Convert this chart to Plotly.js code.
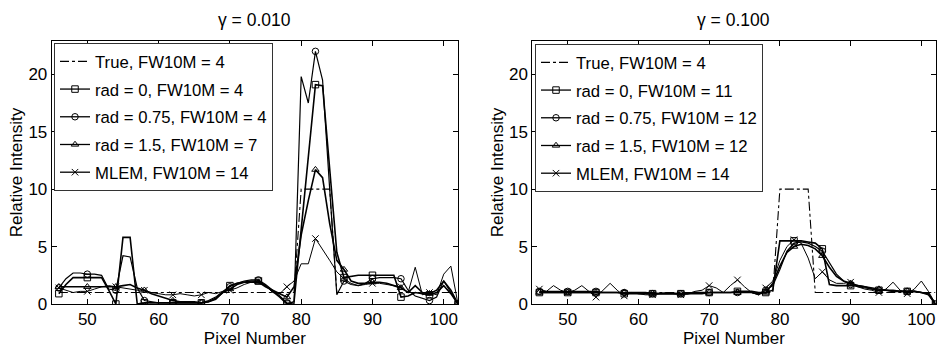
<!DOCTYPE html>
<html>
<head>
<meta charset="utf-8">
<script src="https://cdn.plot.ly/plotly-3.0.1.min.js"></script>
<style>html,body{margin:0;padding:0;background:#fff;}#chart{width:938px;height:349px;}</style>
</head>
<body>
<div id="chart"></div>
<script>
// Pixel numbers (x) shared by both panels
const pixels = [46,47,48,49,50,51,52,53,54,55,56,57,58,59,60,61,62,63,64,65,66,67,68,69,70,71,72,73,74,75,
  76,77,78,79,80,81,82,83,84,85,86,87,88,89,90,91,92,93,94,95,96,97,98,99,100,101,102];

const seriesNames = ['True', 'rad = 0', 'rad = 0.75', 'rad = 1.5', 'MLEM'];
const fw10mLeft = [4, 4, 4, 7, 14];
const fw10mRight = [4, 11, 12, 12, 14];
const panelTitles = ['γ = 0.010', 'γ = 0.100'];
const xTicks = [50, 60, 70, 80, 90, 100];
const yTicks = [0, 5, 10, 15, 20];

// ---- Left panel, gamma = 0.010 ----
const trueL = [1,1,1,1,1,1,1,1,1,1,1,1,1,1,1,1,1,1,1,1,1,1,1,1,1,1,1,1,1,1,
  1,1,1,1,10,10,10,10,10,1,1,1,1,1,1,1,1,1,1,1,1,1,1,1,1,1,1];
const rad0L = [0.9,1.7,2.3,2.3,2.3,2.3,2.3,1.2,0.0,5.8,5.8,0.0,0.1,0.1,0.1,0.1,0.1,0.1,0.1,0.1,0.1,0.2,0.4,1.0,1.6,1.8,1.9,2.0,2.0,1.6,
  1.1,0.6,0.0,0.2,6.5,13.0,19.1,19.0,12.0,4.5,2.3,2.4,2.5,2.5,2.5,2.5,2.5,2.5,0.6,0.7,1.0,0.9,0.8,1.0,1.6,0.9,0.0];
const rad075L = [1.4,2.2,2.7,2.7,2.6,2.6,2.5,1.3,1.2,4.2,4.1,1.4,0.3,0.2,0.1,0.1,0.1,0.1,0.1,0.1,0.1,0.3,0.6,1.1,1.5,1.8,2.0,2.1,2.1,1.7,
  1.2,0.7,0.1,0.0,19.8,17.5,22.0,19.5,10.0,0.8,2.0,1.7,1.6,1.8,2.2,2.3,2.3,2.3,2.2,1.2,0.7,0.5,0.3,0.6,2.0,1.0,0.0];
const rad15L = [1.5,1.5,1.5,1.5,1.5,1.5,1.5,1.5,1.5,1.6,1.7,1.4,1.2,0.9,0.7,0.5,0.3,0.2,0.2,0.2,0.1,0.2,0.5,1.0,1.3,1.7,1.9,1.9,1.9,1.5,
  1.2,0.9,0.6,1.5,6.0,9.0,11.7,11.0,7.0,3.8,3.0,2.0,1.8,1.8,1.9,1.9,1.8,1.6,1.4,1.0,1.6,1.0,0.9,1.2,2.0,1.2,0.0];
const mlemL = [1.4,1.2,1.0,1.1,1.1,1.3,1.5,1.6,1.5,1.4,1.3,1.2,1.2,1.0,0.9,0.8,0.8,0.9,0.8,0.7,0.8,1.0,0.9,1.1,1.2,1.4,1.7,1.9,2.0,1.6,
  1.0,0.9,1.5,2.0,3.5,3.5,5.7,4.8,3.8,2.8,2.2,1.8,1.6,1.7,1.8,1.8,1.7,1.6,1.5,1.0,3.2,0.8,1.0,0.8,2.6,3.3,0.0];

// ---- Right panel, gamma = 0.100 ----
const trueR = [1,1,1,1,1,1,1,1,1,1,1,1,1,1,1,1,1,1,1,1,1,1,1,1,1,1,1,1,1,1,
  1,1,1,1,10,10,10,10,10,1,1,1,1,1,1,1,1,1,1,1,1,1,1,1,1,1,1];
const rad0R = [1.0,1.0,1.0,1.0,1.0,1.0,1.0,1.0,1.0,1.0,1.0,1.0,0.9,0.9,0.9,0.9,0.9,0.9,0.9,0.9,0.9,0.9,0.9,0.9,1.0,1.0,1.0,1.0,1.1,1.1,
  1.1,1.0,1.0,1.2,5.5,5.5,5.5,5.5,5.4,5.3,4.8,1.7,1.6,1.6,1.6,1.6,1.5,1.3,1.2,1.2,1.1,1.1,1.1,1.1,1.0,0.9,0.0];
const rad075R = [1.1,1.1,1.1,1.1,1.1,1.1,1.1,1.1,1.1,1.0,1.0,1.0,1.0,1.0,0.9,0.9,0.9,0.9,0.9,0.9,0.9,0.9,1.0,1.0,1.0,1.0,1.0,1.0,1.0,1.0,
  1.0,0.8,1.2,1.6,3.0,4.6,5.3,5.4,5.3,5.0,4.6,3.6,2.6,2.0,1.7,1.5,1.4,1.3,1.2,1.2,1.1,1.1,1.1,1.1,1.0,0.9,0.0];
const rad15R = [1.0,1.0,1.0,1.0,1.0,1.0,1.0,1.0,1.0,1.0,1.0,1.0,1.0,1.0,1.0,1.0,0.9,0.9,0.9,0.9,0.9,0.9,1.0,1.0,1.0,1.0,1.0,1.0,1.0,1.0,
  1.0,0.9,1.0,1.8,3.3,4.5,5.0,5.2,5.1,4.8,4.2,3.2,2.4,2.0,1.8,1.6,1.5,1.4,1.3,1.2,1.2,1.1,1.1,1.1,1.0,0.8,0.0];
const mlemR = [1.3,1.1,1.6,1.2,1.0,1.2,1.6,1.1,0.6,1.2,1.8,1.2,0.7,1.0,0.9,0.8,0.8,0.9,1.0,0.9,0.8,0.9,1.1,1.2,1.6,1.4,1.0,1.6,2.1,1.5,
  1.0,0.8,1.4,2.0,3.8,5.0,5.6,5.3,4.0,2.2,2.8,2.1,1.8,1.8,1.9,1.5,1.3,1.2,1.0,1.3,1.9,1.2,0.9,1.3,2.0,1.1,0.0];

const leftData = [trueL, rad0L, rad075L, rad15L, mlemL];
const rightData = [trueR, rad0R, rad075R, rad15R, mlemR];

// styles
const styles = [
  {dash: 'dashdot', width: 1.1, symbol: null},
  {dash: 'solid', width: 1.6, symbol: 'square-open'},
  {dash: 'solid', width: 1.2, symbol: 'circle-open'},
  {dash: 'solid', width: 1.6, symbol: 'triangle-up-open'},
  {dash: 'solid', width: 1.0, symbol: 'x-thin-open'}
];

const FONT = '"Liberation Sans", Arial, Helvetica, sans-serif';
const traces = [];

function markerStyle(sym) {
  return {symbol: sym, size: 6.5, color: '#000', line: {color: '#000', width: 1}};
}

function addPanel(dataArr, fw, xa, ya, legendId) {
  dataArr.forEach((ys, i) => {
    const st = styles[i];
    // line through every pixel
    traces.push({
      type: 'scatter', mode: 'lines', x: pixels, y: ys, xaxis: xa, yaxis: ya,
      line: {color: '#000', width: st.width, dash: st.dash},
      showlegend: false, hoverinfo: 'skip'
    });
    // markers on every 4th pixel
    if (st.symbol) {
      const mx = pixels.filter((p, k) => k % 4 === 0);
      const my = ys.filter((v, k) => k % 4 === 0);
      traces.push({
        type: 'scatter', mode: 'markers', x: mx, y: my, xaxis: xa, yaxis: ya,
        marker: markerStyle(st.symbol),
        showlegend: false, hoverinfo: 'skip'
      });
    }
    // legend entry
    const lg = {
      type: 'scatter', mode: st.symbol ? 'lines+markers' : 'lines',
      x: [null], y: [null], xaxis: xa, yaxis: ya,
      name: seriesNames[i] + ', FW10M = ' + fw[i],
      legend: legendId, legendgroup: legendId + '_' + i,
      line: {color: '#000', width: 1.3, dash: st.dash},
      showlegend: true
    };
    if (st.symbol) lg.marker = markerStyle(st.symbol);
    traces.push(lg);
  });
}
addPanel(leftData, fw10mLeft, 'x', 'y', 'legend');
addPanel(rightData, fw10mRight, 'x2', 'y2', 'legend2');

const W = 938, H = 349;
const axFont = {family: FONT, size: 17, color: '#000'};
function xAxis(d, anchor) {
  return {domain: d, anchor: anchor, range: [45, 102], tickvals: xTicks, ticks: 'inside', ticklen: 5,
    tickcolor: '#000', showline: true, linecolor: '#000', linewidth: 1, mirror: 'ticks', showgrid: false,
    zeroline: false, tickfont: axFont, automargin: false,
    title: {text: 'Pixel Number', font: axFont, standoff: 1}};
}
function yAxis(anchor) {
  return {domain: [1 - 304 / H, 1 - 41 / H], anchor: anchor, range: [0, 22.9], tickvals: yTicks, ticks: 'inside', ticklen: 5,
    tickcolor: '#000', showline: true, linecolor: '#000', linewidth: 1, mirror: 'ticks', showgrid: false,
    zeroline: false, tickfont: axFont, automargin: false,
    title: {text: 'Relative Intensity', font: axFont, standoff: 1}};
}
const legendStyle = (xpx, ypx) => ({
  x: xpx / W, y: 1 - ypx / H, xref: 'paper', yref: 'paper', xanchor: 'left', yanchor: 'top',
  bgcolor: '#fff', bordercolor: '#333', borderwidth: 1, font: {family: FONT, size: 16.7, color: '#000'},
  tracegroupgap: 3, traceorder: 'grouped'
});

const layout = {
  width: W, height: H,
  margin: {l: 0, r: 0, t: 0, b: 0},
  paper_bgcolor: '#fff', plot_bgcolor: '#fff',
  font: {family: FONT, color: '#000'},
  xaxis: xAxis([51.7 / W, 458 / W], 'y'),
  yaxis: yAxis('x'),
  xaxis2: xAxis([532.3 / W, 935.5 / W], 'y2'),
  yaxis2: yAxis('x2'),
  legend: legendStyle(54, 43),
  legend2: legendStyle(535, 44),
  annotations: [
    {text: panelTitles[0], x: (51.7 + 458) / 2 / W, y: 1 - 20 / H, xref: 'paper', yref: 'paper',
     xanchor: 'center', yanchor: 'middle', showarrow: false, font: {family: FONT, size: 17.5, color: '#000'}},
    {text: panelTitles[1], x: (532.3 + 935.5) / 2 / W, y: 1 - 20 / H, xref: 'paper', yref: 'paper',
     xanchor: 'center', yanchor: 'middle', showarrow: false, font: {family: FONT, size: 17.5, color: '#000'}}
  ],
  showlegend: true
};

Plotly.newPlot('chart', traces, layout, {staticPlot: true, displayModeBar: false});
</script>
</body>
</html>
